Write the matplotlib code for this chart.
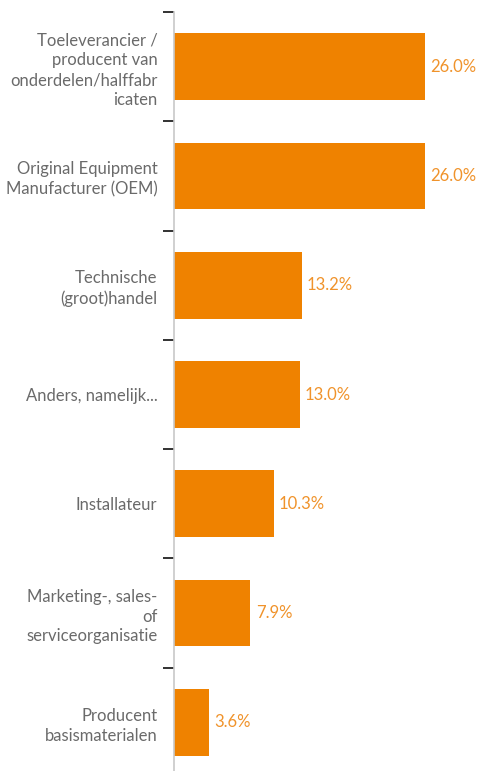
import matplotlib
matplotlib.use("Agg")
import numpy as np
import matplotlib.pyplot as plt

plt.rcParams.update({"font.family": ["Lato", "DejaVu Sans"], "font.size": 12})
BAR = "#EF8200"; VAL = "#F0932B"; LBL = "#6a6a6a"; SPINE = "#c8c8c8"

categories = [
    "Toeleverancier /\nproducent van\nonderdelen/halffabr\nicaten",
    "Original Equipment\nManufacturer (OEM)",
    "Technische\n(groot)handel",
    "Anders, namelijk...",
    "Installateur",
    "Marketing-, sales-\nof\nserviceorganisatie",
    "Producent\nbasismaterialen",
]
values = [26.0, 26.0, 13.2, 13.0, 10.3, 7.9, 3.6]

W, H = 478, 771
fig = plt.figure(figsize=(W / 100, H / 100), dpi=100)
ax = fig.add_axes([174 / W, 1 - 777 / H, 290 / W, 765 / H])

y = np.arange(len(values))
ax.barh(y, values, height=0.61, color=BAR, zorder=2)
for yi, v in zip(y, values):
    ax.text(v + 0.55, yi, f"{v:.1f}%", va="center", ha="left", color=VAL, fontsize=12)

ax.set_ylim(len(values) - 0.5, -0.5)
ax.set_xlim(0, 30)
ax.set_yticks(y)
ax.set_yticklabels(categories, color=LBL, fontsize=12, linespacing=1.3)
ax.tick_params(axis="y", which="major", length=0, pad=12)
ax.set_yticks(np.arange(len(values)) - 0.5, minor=True)
ax.tick_params(axis="y", which="minor", length=8, width=1.3, color="#222222")
ax.set_xticks([])
for s in ["top", "right", "bottom"]:
    ax.spines[s].set_visible(False)
ax.spines["left"].set_color(SPINE)
ax.spines["left"].set_linewidth(1.2)

fig.savefig("out.png", dpi=100, facecolor="white")
